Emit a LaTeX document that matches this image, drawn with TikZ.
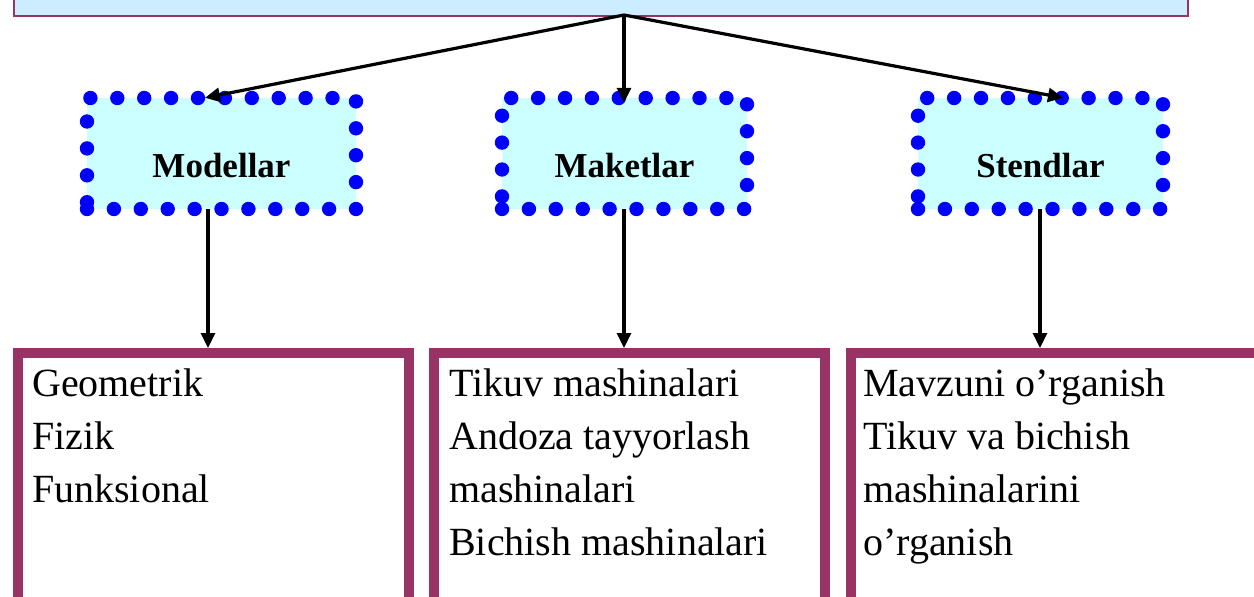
\documentclass[tikz,border=0pt]{standalone}
\usepackage{fontspec}
\setmainfont{Liberation Serif}
\usetikzlibrary{arrows.meta,calc,decorations.markings}
\definecolor{plum}{HTML}{993366}
\definecolor{topblue}{HTML}{CCECFF}
\definecolor{lcyan}{HTML}{CCFFFF}
\definecolor{dotblue}{HTML}{0000FF}
\begin{document}
\begin{tikzpicture}[x=1pt,y=-1pt,
  topbox/.style={draw=plum, fill=topblue, line width=2pt, inner sep=0pt},
  dotbox/.style={fill=lcyan, inner sep=0pt,
    postaction={decorate, decoration={markings,
      mark=between positions 0 and 0.999 step 26.9pt with {\fill[dotblue] (0,0) circle (7.2pt);}}},
    text height=47pt, text depth=0pt,
    font=\fontsize{35}{40}\selectfont\bfseries},
  botbox/.style={draw=plum, fill=white, line width=10pt, inner sep=0pt},
  txt/.style={align=left, inner sep=0pt, font=\fontsize{40}{53}\selectfont},
  arr/.style={line width=3.2pt, -{Triangle[length=15pt,width=14pt]}}]
\useasboundingbox (0,0) rectangle (1254,597);
\clip (0,0) rectangle (1254,597);
\fill[white] (0,0) rectangle (1254,597);
% top box
\node[topbox, minimum width=1174pt, minimum height=40pt, anchor=south west] (top) at (13,17) {};
\coordinate (apex) at (624,15);
% dotted boxes
\node[dotbox, minimum width=269pt, minimum height=111pt] (mod) at (221.5,153.5) {Modellar};
\node[dotbox, minimum width=245pt, minimum height=111pt] (mak) at (624.5,153.5) {Maketlar};
\node[dotbox, minimum width=245pt, minimum height=111pt] (sten) at (1040.5,153.5) {Stendlar};
% bottom boxes
\node[botbox, minimum width=391pt, minimum height=260pt, anchor=north west] (b1) at (13,348) {};
\node[botbox, minimum width=391pt, minimum height=260pt, anchor=north west] (b2) at (429,348) {};
\node[botbox, minimum width=416pt, minimum height=260pt, anchor=north west] (b3) at (846,348) {};
% texts
\node[txt, anchor=north west] (t1) at (32,369) {Geometrik\\Fizik\\Funksional};
\node[txt, anchor=north west] (t2) at (449,369) {Tikuv mashinalari\\Andoza tayyorlash\\mashinalari\\Bichish mashinalari};
\node[txt, anchor=north west] (t3) at (863,369) {Mavzuni o’rganish\\Tikuv va bichish\\mashinalarini\\o’rganish};
% arrows from top
\draw[arr] (apex) -- ($(mod.north)+(-16.5,0)$);
\draw[arr] (apex) -- ($(mak.north)+(-0.5,5)$);
\draw[arr] (apex) -- ($(sten.north)+(22.5,0)$);
% arrows down
\draw[arr] ($(mod.south)+(-13.5,0)$) coordinate (m1) -- (m1 |- b1.north);
\draw[arr] ($(mak.south)+(-0.5,0)$) coordinate (m2) -- (m2 |- b2.north);
\draw[arr] ($(sten.south)+(-0.5,0)$) coordinate (m3) -- (m3 |- b3.north);
\end{tikzpicture}
\end{document}
